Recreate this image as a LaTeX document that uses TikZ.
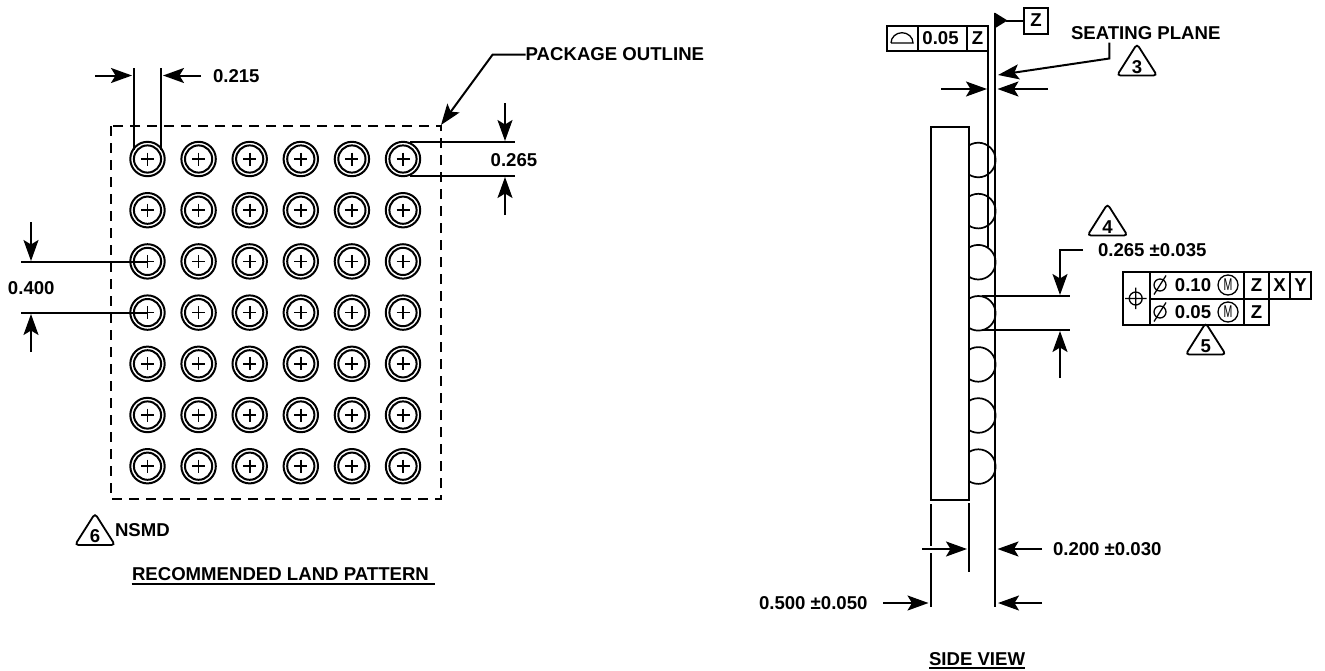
\documentclass[tikz,border=0pt]{standalone}
\usepackage{fontspec}
\setmainfont{Liberation Sans}
\usetikzlibrary{arrows.meta}
\tikzset{
  ln/.style={line width=2pt,black},
  thin ln/.style={line width=1.3pt,black},
  dim/.style={ln,-{Stealth[length=21pt,width=15pt,inset=4.5pt]}},
  lbl/.style={inner sep=0pt,outer sep=0pt,font=\fontsize{18.6}{22}\selectfont\bfseries},
  reg/.style={inner sep=0pt,outer sep=0pt,xscale=.62,font=\fontsize{17}{20}\selectfont},
}
\newcommand{\deltri}[4]{% name, x apex, y apex, text
  \draw[ln,line width=1.8pt,rounded corners=3.5pt] (#2-20,#3+28) -- (#2,#3-3.5) -- (#2+20,#3+28) -- cycle;
  \node[lbl] (#1) at (#2,#3+19.5) {#4};
}
\newcommand{\dia}[2]{% diameter symbol
  \draw[thin ln] (#1,#2) circle (6);
  \draw[thin ln] (#1-6,#2+9.5) -- (#1+6,#2-9.5);
}
\newcommand{\mcirc}[3]{% name, x, y
  \draw[thin ln] (#2,#3) circle (10);
  \node[reg] (#1) at (#2,#3) {M};
}
\begin{document}
\begin{tikzpicture}[x=1pt,y=-1pt]
\useasboundingbox (0,0) rectangle (1325,670);
% land pattern
\draw[ln,dash pattern=on 10pt off 7pt] (111,126) rectangle (441,499);
\foreach \c in {0,...,5}{
  \foreach \r in {0,...,6}{
    \pgfmathsetmacro{\px}{147.5+51.1*\c}
    \pgfmathsetmacro{\py}{159+51.2*\r}
    \draw[ln] (\px,\py) circle (17.2);
    \draw[ln] (\px,\py) circle (13.6);
    \draw[ln,line width=1.7pt] (\px-6.5,\py) -- (\px+6.5,\py) (\px,\py-6.5) -- (\px,\py+6.5);
  }
}
% 0.215
\coordinate (a1) at (134,68); \coordinate (a2) at (134,150);
\coordinate (b1) at (161,68); \coordinate (b2) at (161,150);
\draw[ln] (a1) -- (a2) (b1) -- (b2);
\coordinate (a3) at (95,75.5); \coordinate (a4) at (132,75.5);
\coordinate (b3) at (201,75.5); \coordinate (b4) at (163,75.5);
\draw[dim] (a3) -- (a4);
\draw[dim] (b3) -- (b4);
\node[lbl,anchor=west] (t215) at (213,76) {0.215};
% package outline
\node[lbl,anchor=west] (tpkg) at (525.7,54.5) {PACKAGE OUTLINE};
\coordinate (p1) at (492.7,54.5); \coordinate (p2) at (441,125);
\draw[dim] (tpkg.west) -- (p1) -- (p2);
% 0.265 left
\draw[ln] (410,142) -- (515,142) (410,176) -- (515,176);
\draw[dim] (505,103) -- (505,141);
\draw[dim] (505,215) -- (505,177);
\node[lbl,anchor=west] (t265) at (490.7,160) {0.265};
% 0.400
\draw[ln] (21,262) -- (147,262) (21,313) -- (147,313);
\draw[dim] (31,222) -- (31,261);
\draw[dim] (31,352) -- (31,314);
\node[lbl,anchor=west] (t400) at (8,288) {0.400};
% NSMD
\deltri{d6}{95}{517}{6}
\node[lbl,anchor=west] (tnsmd) at (115,530.5) {NSMD};
\node[lbl,anchor=west] (trlp) at (132,574.5) {RECOMMENDED LAND PATTERN};
\draw[ln,line width=1.7pt] (131.5,584) -- (435,584);
% side view
\draw[ln] (931,127) rectangle (969,500);
\begin{scope}
\clip (969,100) rectangle (1010,500);
\foreach \r in {0,...,6}{
  \draw[ln,line width=1.7pt] (978.3,160+51.1*\r) circle (17.3);
}
\end{scope}
\draw[ln] (988,26) -- (988,247);
\draw[ln] (995,13) -- (995,607);
\fill (994.5,12.5) -- (994.5,28.5) -- (1007.5,20.5) -- cycle;
\draw[ln] (1006,20.5) -- (1024,20.5);
\draw[ln] (1024,7.5) rectangle (1048,33.5);
\node[lbl] (tz1) at (1036,20.5) {Z};
% flatness frame
\draw[ln] (887,26) rectangle (988,50.5);
\draw[ln] (918,26) -- (918,50.5) (967,26) -- (967,50.5);
\draw[ln,line width=1.3pt] (891,43) -- (913,43) arc (0:-180:11 and 10.3);
\node[lbl] (t005) at (940.5,38.5) {0.05};
\node[lbl] (tz2) at (977.5,38.5) {Z};
% seating plane
\node[lbl,anchor=west] (tseat) at (1071,33) {SEATING PLANE};
\draw[dim] (1109.3,42.5) -- (1109.3,58.5) -- (998,75);
\deltri{d3}{1137}{47.5}{3}
\draw[dim] (941,89) -- (987,89);
\draw[dim] (1048,89) -- (997.5,89);
% 0.265 side
\draw[ln] (982,296) -- (1070,296) (982,330) -- (1070,330);
\node[lbl,anchor=west] (ts265) at (1098,250.5) {0.265 ±0.035};
\draw[dim] (1083,249.5) -- (1060,249.5) -- (1060,295);
\draw[dim] (1060,378) -- (1060,331);
\deltri{d4}{1107.5}{207.5}{4}
% position frame
\draw[ln] (1123,272) -- (1311,272) -- (1311,298.5) -- (1269,298.5) -- (1269,325) -- (1123,325) -- cycle;
\draw[ln] (1150,298.5) -- (1269,298.5);
\draw[ln] (1150,272) -- (1150,325) (1244,272) -- (1244,325) (1269,272) -- (1269,298.5) (1290,272) -- (1290,298.5);
\draw[thin ln] (1135.7,298.5) circle (6.5) (1125,298.5) -- (1146.5,298.5) (1135.7,287.5) -- (1135.7,309);
\dia{1160}{285}
\dia{1160}{312}
\node[lbl] (t010) at (1193,285.5) {0.10};
\node[lbl] (t0052) at (1193,312.5) {0.05};
\mcirc{m1}{1228}{285}
\mcirc{m2}{1228}{312}
\node[lbl] (tz3) at (1256.5,285.5) {Z};
\node[lbl] (tx) at (1279.5,285.5) {X};
\node[lbl] (ty) at (1300.5,285.5) {Y};
\node[lbl] (tz4) at (1256.5,312.5) {Z};
\deltri{d5}{1205.7}{326.5}{5}
% bottom dims
\draw[ln] (931,504) -- (931,546) (931,553) -- (931,607);
\draw[ln] (969,503) -- (969,572);
\draw[dim] (922,549) -- (967,549);
\draw[dim] (1042,549) -- (997.5,549);
\node[lbl,anchor=west] (t200) at (1053,549) {0.200 ±0.030};
\draw[dim] (883,603) -- (928.5,603);
\draw[dim] (1042,603) -- (998,603);
\node[lbl,anchor=west] (t500) at (759,603) {0.500 ±0.050};
\node[lbl,anchor=west] (tside) at (929,659) {SIDE VIEW};
\draw[ln,line width=1.7pt] (929,668) -- (1025,668);
\end{tikzpicture}
\end{document}
